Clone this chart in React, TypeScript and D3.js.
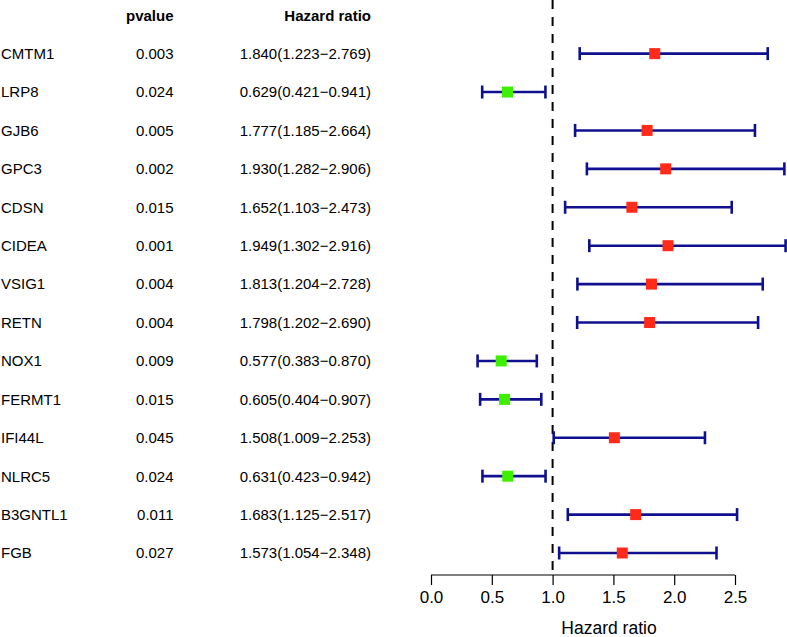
import React, { useEffect, useRef } from "react";
import * as d3 from "d3";

const genes = ["CMTM1","LRP8","GJB6","GPC3","CDSN","CIDEA","VSIG1","RETN","NOX1","FERMT1","IFI44L","NLRC5","B3GNTL1","FGB"];
const pvalues = ["0.003","0.024","0.005","0.002","0.015","0.001","0.004","0.004","0.009","0.015","0.045","0.024","0.011","0.027"];
const hr = [1.840,0.629,1.777,1.930,1.652,1.949,1.813,1.798,0.577,0.605,1.508,0.631,1.683,1.573];
const lower = [1.223,0.421,1.185,1.282,1.103,1.302,1.204,1.202,0.383,0.404,1.009,0.423,1.125,1.054];
const upper = [2.769,0.941,2.664,2.906,2.473,2.916,2.728,2.690,0.870,0.907,2.253,0.942,2.517,2.348];
const xTicks = [0, 0.5, 1.0, 1.5, 2.0, 2.5];

const W = 787, H = 637;

export default function App() {
  const ref = useRef<SVGSVGElement>(null);
  useEffect(() => {
    const svg = d3.select(ref.current);
    svg.selectAll("*").remove();
    const x = d3.scaleLinear().domain([0, 2.5]).range([431, 735]);
    const y = d3.scaleLinear().domain([-1, genes.length - 1]).range([15.2, 553]);
    const font = "Arial, 'Liberation Sans', Helvetica, sans-serif";
    const fs = 15;
    const base = (v: number) => v + 0.358 * fs;

    const rows = genes.map((g, i) => ({ g, p: pvalues[i], hr: hr[i], lo: lower[i], hi: upper[i], i }));

    // header
    svg.append("text").attr("x", 173.5).attr("y", base(y(-1))).attr("text-anchor", "end")
      .attr("font-family", font).attr("font-size", fs).attr("font-weight", "bold").text("pvalue");
    svg.append("text").attr("x", 371).attr("y", base(y(-1))).attr("text-anchor", "end")
      .attr("font-family", font).attr("font-size", fs).attr("font-weight", "bold").text("Hazard ratio");

    const tg = svg.append("g").attr("font-family", font).attr("font-size", fs).attr("fill", "#000");
    tg.selectAll("text.g").data(rows).join("text").attr("class", "g")
      .attr("x", 1).attr("y", d => base(y(d.i))).text(d => d.g);
    tg.selectAll("text.p").data(rows).join("text").attr("class", "p")
      .attr("x", 173.5).attr("y", d => base(y(d.i))).attr("text-anchor", "end").text(d => d.p);
    tg.selectAll("text.h").data(rows).join("text").attr("class", "h")
      .attr("x", 371).attr("y", d => base(y(d.i))).attr("text-anchor", "end")
      .text(d => `${d.hr.toFixed(3)}(${d.lo.toFixed(3)}\u2212${d.hi.toFixed(3)})`);

    // dashed reference line
    svg.append("line").attr("x1", x(1)).attr("x2", x(1)).attr("y1", 0).attr("y2", 575)
      .attr("stroke", "#000").attr("stroke-width", 2).attr("stroke-dasharray", "9,8");

    // error bars
    const blue = "#10108f";
    const eg = svg.append("g");
    const capH = 6.5;
    rows.forEach(d => {
      const cy = y(d.i);
      eg.append("line").attr("x1", x(d.lo)).attr("x2", x(d.hi)).attr("y1", cy).attr("y2", cy)
        .attr("stroke", blue).attr("stroke-width", 2.6);
      [d.lo, d.hi].forEach(v => {
        eg.append("line").attr("x1", x(v)).attr("x2", x(v)).attr("y1", cy - capH).attr("y2", cy + capH)
          .attr("stroke", blue).attr("stroke-width", 2.6);
      });
      const s = 11;
      eg.append("rect").attr("x", x(d.hr) - s / 2).attr("y", cy - s / 2).attr("width", s).attr("height", s)
        .attr("fill", d.hr > 1 ? "#ff2a1a" : "#3cf000");
    });

    // axis
    const ax = svg.append("g").attr("transform", "translate(0,575)")
      .call(d3.axisBottom(x).tickValues(xTicks).tickFormat(d3.format(".1f")).tickSize(10).tickPadding(6));
    ax.select(".domain").attr("stroke", "#000").attr("stroke-width", 1.2).attr("d", `M${x(0)},0H${x(2.5)}`);
    ax.selectAll(".tick line").attr("stroke", "#000").attr("stroke-width", 1.2);
    ax.selectAll(".tick text").attr("font-family", font).attr("font-size", 17).attr("fill", "#000");

    svg.append("text").attr("x", 609).attr("y", 634).attr("text-anchor", "middle")
      .attr("font-family", font).attr("font-size", 17.5).text("Hazard ratio");
  }, []);
  return (
    <svg ref={ref} width={W} height={H} style={{ position: "fixed", left: 0, top: 0, background: "#fff" }} />
  );
}
